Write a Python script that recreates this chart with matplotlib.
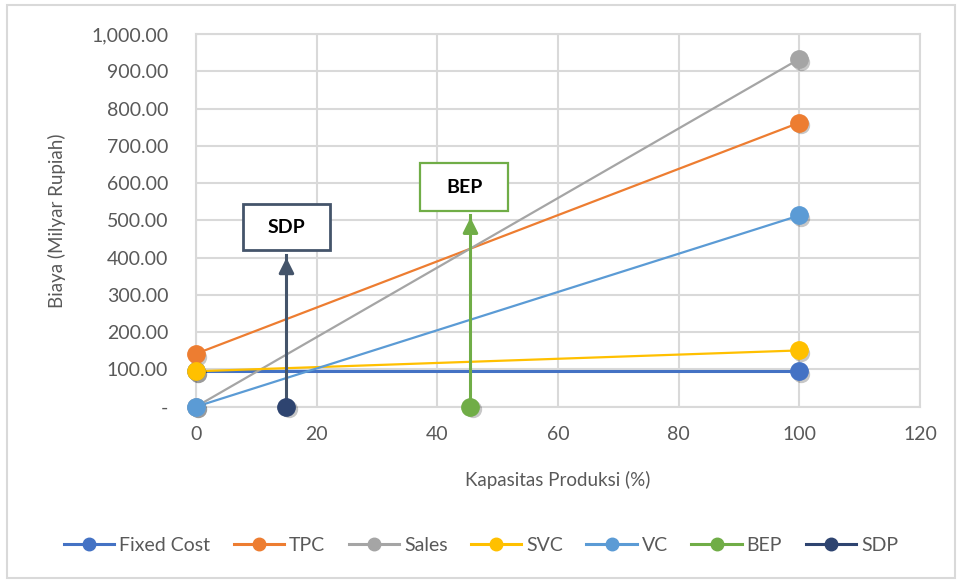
import numpy as np
import matplotlib
matplotlib.use('Agg')
import matplotlib.pyplot as plt
import matplotlib.transforms as mtransforms
from matplotlib.patches import Rectangle
from matplotlib.lines import Line2D
from matplotlib.ticker import FuncFormatter

# data
capacity = [0, 100]
fixedCost = [95, 95]
tpc = [142, 762]
sales = [0, 933]
svc = [95, 151]
vc = [0, 513]
bepX = [45.5, 45.5]
bepY = [0, 515]
sdpX = [15, 15]
sdpY = [0, 407]

seriesNames = ['Fixed Cost', 'TPC', 'Sales', 'SVC', 'VC', 'BEP', 'SDP']
seriesColors = ['#4472C4', '#ED7D31', '#A5A5A5', '#FFC000', '#5B9BD5', '#70AD47', '#2E4470']

plt.rcParams['font.family'] = ['Lato', 'DejaVu Sans']

fig = plt.figure(figsize=(9.62, 5.83), dpi=100)
ax = fig.add_axes([0.2037, 0.3024, 0.7526, 0.6393])

#shadow under the markers: same points shifted a bit down-right
shadowTrans = mtransforms.offset_copy(ax.transData, fig=fig, x=1.5, y=-2, units='points')

lineData = [(capacity, fixedCost), (capacity, tpc), (capacity, sales),
            (capacity, svc), (capacity, vc), (bepX, bepY), (sdpX, sdpY)]
handles = []
for (xs, ys), name, col in zip(lineData, seriesNames, seriesColors):
    lw = 2.2 if name in ('Fixed Cost', 'BEP', 'SDP') else 1.6
    lineCol = '#44546A' if name == 'SDP' else col
    ax.plot(xs, ys, color=lineCol, lw=lw, zorder=3)
    pts = slice(0, 1) if name in ('BEP', 'SDP') else slice(None)
    ax.plot(xs[pts], ys[pts], ls='none', marker='o', ms=12.5, color='black', alpha=0.22,
            mec='none', transform=shadowTrans, zorder=3.5, clip_on=False)
    ax.plot(xs[pts], ys[pts], ls='none', marker='o', ms=12.5, color=col, zorder=4, clip_on=False)
    if name in ('BEP', 'SDP'):
        #arrow head on top
        ax.annotate('', xy=(xs[1], ys[1]), xytext=(xs[1], ys[1] - 40),
                    arrowprops=dict(arrowstyle='-|>,head_length=0.9,head_width=0.45',
                                    color=lineCol, lw=2.2), zorder=3)
    handles.append(Line2D([], [], color=col, lw=2.2, marker='o', ms=9))

#label boxes
ax.add_patch(Rectangle((7.8, 420), 14.4, 123, facecolor='white', edgecolor='#44546A', lw=2, zorder=5))
ax.text(15.0, 482, 'SDP', ha='center', va='center', fontsize=14, fontweight='bold', zorder=6)
ax.add_patch(Rectangle((37.2, 525), 14.6, 128, facecolor='white', edgecolor='#70AD47', lw=1.6, zorder=5))
ax.text(44.5, 589, 'BEP', ha='center', va='center', fontsize=14, fontweight='bold', zorder=6)

ax.set_xlim(0, 120)
ax.set_ylim(0, 1000)
ax.set_xticks(np.arange(0, 121, 20))
ax.set_yticks(np.arange(0, 1001, 100))
ax.yaxis.set_major_formatter(FuncFormatter(lambda v, p: '-' if v == 0 else f'{v:,.2f}'))
ax.grid(True, color='#D9D9D9', lw=1.5)
ax.set_axisbelow(True)
for s in ax.spines.values():
    s.set_color('#D9D9D9')
    s.set_linewidth(1.5)
ax.tick_params(length=0, labelsize=14, colors='#595959')
ax.tick_params(axis='y', pad=20)
ax.tick_params(axis='x', pad=14)

ax.set_xlabel('Kapasitas Produksi (%)', fontsize=13.5, color='#595959', labelpad=20)
ax.set_ylabel('Biaya (Milyar Rupiah)', fontsize=13.5, color='#595959', labelpad=18)

fig.legend(handles, seriesNames, loc='center', bbox_to_anchor=(0.5, 0.065), ncol=7, frameon=False,
           fontsize=14, labelcolor='#595959', handlelength=2.6, columnspacing=1.2,
           handletextpad=0.25)

#outer chart border
fig.patches.append(Rectangle((0.007, 0.008), 0.986, 0.984, transform=fig.transFigure,
                             fill=False, edgecolor='#D9D9D9', lw=1.5))

fig.savefig('out.png', dpi=100)
